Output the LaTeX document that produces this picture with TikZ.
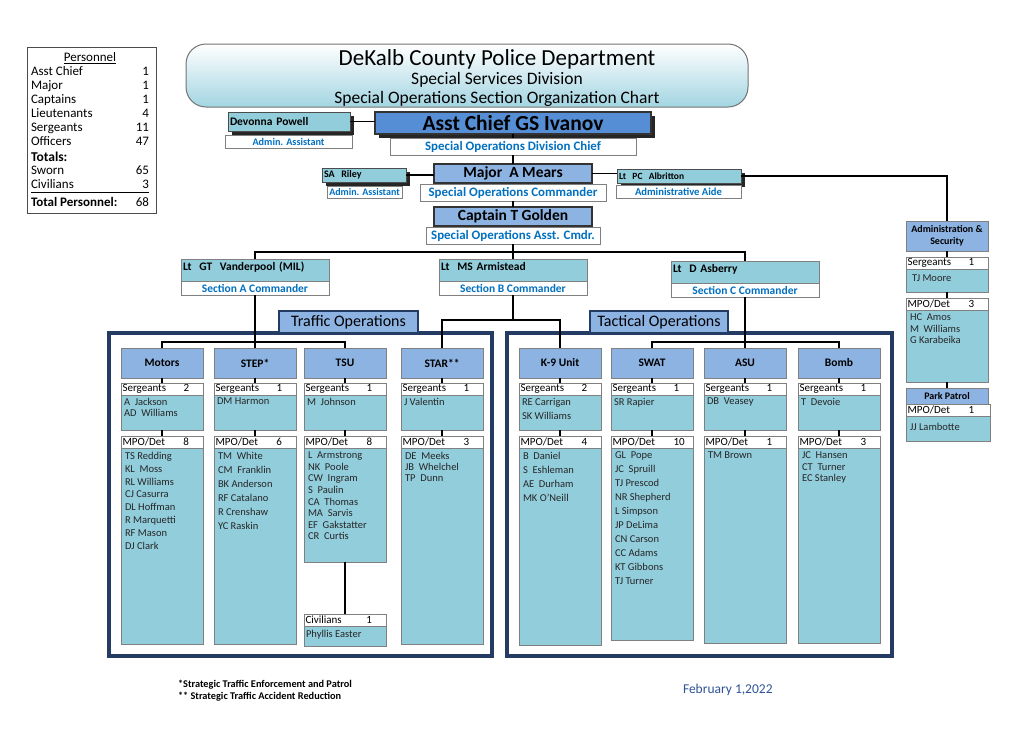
\documentclass[tikz,border=0pt]{standalone}
\usepackage{fontspec}
\setmainfont{Carlito}
\usepackage{tikz}
\usetikzlibrary{positioning, shadows}
\definecolor{chiefblue}{RGB}{85,142,213}
\definecolor{headblue}{RGB}{141,179,226}
\definecolor{cellblue}{RGB}{146,205,220}
\definecolor{roleblue}{RGB}{0,112,192}
\definecolor{framenavy}{RGB}{36,60,100}
\definecolor{datenavy}{RGB}{46,84,150}
\definecolor{edgegray}{RGB}{128,128,128}
\newcommand{\pxfont}[2]{\fontsize{#1}{#2}\selectfont}

\begin{document}
\begin{tikzpicture}[x=1pt, y=-1pt, inner sep=0pt, outer sep=0pt,
    every node/.style={anchor=north west, font=\pxfont{10.5}{12}},
    orgline/.style={draw=black, line width=1.4},
    bannerbox/.style={draw=black!55, line width=1, rounded corners=20, top color=white, bottom color=cellblue!85},
    chiefbox/.style={draw=black!80, line width=1.3, fill=chiefblue, font=\bfseries\pxfont{21.5}{23}, drop shadow={shadow xshift=3.5pt, shadow yshift=-3.5pt, opacity=1, fill=black!85}},
    staffbox/.style={draw=black!70, line width=1, fill=cellblue, align=left, inner xsep=2, font=\bfseries\pxfont{11.5}{13}, drop shadow={shadow xshift=3.5pt, shadow yshift=-3.5pt, opacity=1, fill=black!85}},
    rankbox/.style={draw=black!80, line width=1.3, fill=headblue, font=\bfseries\pxfont{15.5}{17}},
    rolebox/.style={draw=edgegray, line width=0.8, fill=white, text=roleblue, font=\bfseries\pxfont{12.9}{14}},
    ltbox/.style={draw=edgegray, line width=0.8, fill=cellblue, align=left, text width=144, inner xsep=2, text height=11, text depth=11, font=\bfseries\pxfont{11.5}{13}},
    opsframe/.style={draw=framenavy, line width=3.2},
    opslabel/.style={draw=framenavy, line width=1.6, fill=headblue, minimum height=22, font=\pxfont{16}{18}},
    unithead/.style={draw=edgegray, line width=0.8, fill=headblue, minimum width=82, minimum height=30, font=\bfseries\pxfont{11.5}{13}},
    tagbox/.style={draw=edgegray, line width=0.8, fill=white, align=left, text width=79, inner xsep=1.5, minimum height=12, font=\pxfont{11}{12}},
    listbox/.style={draw=edgegray, line width=0.8, fill=cellblue, minimum width=82},
    namelist/.style={align=left, text=black!85},
    footnote/.style={anchor=west, font=\bfseries\pxfont{10.3}{12}}
  ]
  \useasboundingbox (0,0) rectangle (1024,736);
  \fill[white] (0,0) rectangle (1024,736);

  \node (personnel) [draw=black!70, line width=0.8, minimum width=129, minimum height=166] at (27,47) {};
  \node (headcount) [font=\pxfont{13}{14}] at (31,52) {%
    \begin{tabular*}{118pt}{@{}l@{\extracolsep{\fill}}r@{}}
      \multicolumn{2}{c}{\underline{Personnel}}\\
      Asst Chief & 1\\
      Major & 1\\
      Captains & 1\\
      Lieutenants & 4\\
      Sergeants & 11\\
      Officers & 47\\[2pt]
      \textbf{\pxfont{13.5}{14}Totals:} & \\[-1pt]
      Sworn & 65\\
      Civilians & 3\\[-1pt]
      \hline
      \rule{0pt}{14pt}\textbf{Total Personnel:} & 68
    \end{tabular*}};

  \node (banner) [bannerbox, minimum width=562, minimum height=63] at (186,44) {};
  \node (bannertitle) [anchor=center, font=\pxfont{23}{26}] at (497,59) {DeKalb County Police Department};
  \node (bannerdivision) [anchor=center, font=\pxfont{17.5}{20}] at (497,80) {Special Services Division};
  \node (bannersection) [anchor=center, font=\pxfont{17.5}{20}] at (497,99) {Special Operations Section Organization Chart};

  \node (devonna) [staffbox, text width=118, minimum height=19] at (228,112) {Devonna Powell};
  \node (devonnasub) [rolebox, minimum width=127, minimum height=13, font=\bfseries\pxfont{10.2}{11}] at (225,135) {Admin. Assistant};
  \node (chief) [chiefbox, minimum width=276, minimum height=22] at (375,112) {Asst Chief GS Ivanov};
  \node (chiefsub) [rolebox, minimum width=246, minimum height=17] at (390,138) {Special Operations Division Chief};

  \node (riley) [staffbox, text width=80, minimum height=14, font=\bfseries\pxfont{10}{11}] at (322,168) {SA\ \ Riley};
  \node (rileysub) [rolebox, minimum width=75, minimum height=12, font=\bfseries\pxfont{10}{11}] at (327,186) {Admin. Assistant};
  \node (major) [rankbox, minimum width=158, minimum height=19] at (434,164) {Major\ \ A Mears};
  \node (majorsub) [rolebox, minimum width=186, minimum height=17] at (420,184) {Special Operations Commander};
  \node (albritton) [staffbox, text width=120, minimum height=14, font=\bfseries\pxfont{9.5}{11}] at (617,169) {Lt\ \ PC\ \ Albritton};
  \node (albrittonsub) [rolebox, minimum width=125, minimum height=13, font=\bfseries\pxfont{10.6}{11}] at (616,185) {Administrative Aide};

  \node (captain) [rankbox, minimum width=158, minimum height=19] at (434,207) {Captain T Golden};
  \node (captainsub) [rolebox, minimum width=174, minimum height=17] at (426,227) {Special Operations Asst. Cmdr.};

  \node (vanderpool) [ltbox] at (181,259) {Lt\ \ GT\ \ Vanderpool (MIL)};
  \node (vanderpoolsub) [rolebox, minimum width=148, minimum height=14, font=\bfseries\pxfont{11.5}{12}] at (181,281) {Section A Commander};
  \node (armistead) [ltbox] at (439,259) {Lt\ \ MS Armistead};
  \node (armisteadsub) [rolebox, minimum width=148, minimum height=14, font=\bfseries\pxfont{11.5}{12}] at (439,281) {Section B Commander};
  \node (asberry) [ltbox] at (671,261) {Lt\ \ D Asberry};
  \node (asberrysub) [rolebox, minimum width=148, minimum height=14, font=\bfseries\pxfont{11.5}{12}] at (671,283) {Section C Commander};

  \node (trafficframe) [opsframe, minimum width=383, minimum height=323] at (109,333) {};
  \node (tacticalframe) [opsframe, minimum width=385, minimum height=323] at (507,333) {};
  \node (trafficlabel) [opslabel, minimum width=139] at (279,311) {Traffic Operations};
  \node (tacticallabel) [opslabel, minimum width=138] at (590,311) {Tactical Operations};

  \foreach \u/\lx/\ttl/\sc/\sn/\sgap/\mc/\mn/\mgap/\mb in {
      motors/121/Motors/2/{A\ \ Jackson\\AD\ \ Williams}/11.5/8/{TS Redding\\KL\ \ Moss\\RL Williams\\CJ Casurra\\DL Hoffman\\R Marquetti\\RF Mason\\DJ Clark}/12.9/644,
      step/214/STEP*/1/{DM Harmon}/12/6/{TM\ \ White\\CM\ \ Franklin\\BK Anderson\\RF Catalano\\R Crenshaw\\YC Raskin}/14/644,
      tsu/304/TSU/1/{M\ \ Johnson}/12/8/{L\ \ Armstrong\\NK\ \ Poole\\CW\ \ Ingram\\S\ \ Paulin\\CA\ \ Thomas\\MA\ \ Sarvis\\EF\ \ Gakstatter\\CR\ \ Curtis}/11.6/562,
      star/401/STAR**/1/{J Valentin}/12/3/{DE\ \ Meeks\\JB\ \ Whelchel\\TP\ \ Dunn}/11.2/644,
      k9/519/K-9 Unit/2/{RE Carrigan\\SK Williams}/14/4/{B\ \ Daniel\\S\ \ Eshleman\\AE\ \ Durham\\MK O'Neill}/14/645,
      swat/611/SWAT/1/{SR Rapier}/12/10/{GL\ \ Pope\\JC\ \ Spruill\\TJ Prescod\\NR Shepherd\\L Simpson\\JP DeLima\\CN Carson\\CC Adams\\KT Gibbons\\TJ Turner}/14/640,
      asu/704/ASU/1/{DB\ \ Veasey}/12/1/{TM Brown}/12/643,
      bomb/798/Bomb/1/{T\ \ Devoie}/12/3/{JC\ \ Hansen\\CT\ \ Turner\\EC Stanley}/11.5/643}{
    \node (\u-head) [unithead] at (\lx,348) {\ttl};
    \node (\u-sgt) [tagbox] at (\lx,383) {\makebox[61pt][l]{Sergeants}\sc};
    \node (\u-sgtl) [listbox, minimum height=35] at (\lx,395) {};
    \node (\u-sgtnames) [namelist, font=\pxfont{10.5}{\sgap}] at (\lx+3,398) {\sn};
    \node (\u-mpo) [tagbox] at (\lx,436) {\makebox[61pt][l]{MPO/Det}\mc};
    \node (\u-mpol) [listbox, minimum height=\mb-448] at (\lx,448) {};
    \node (\u-mponames) [namelist, font=\pxfont{10.5}{\mgap}] at (\lx+4,452) {\mn};
    \draw[orgline] (\u-head) -- (\u-sgt);
    \draw[orgline] (\u-sgtl) -- (\u-mpo);
  }

  \node (tsu-civ) [tagbox] at (304,614) {\makebox[61pt][l]{Civilians}1};
  \node (tsu-civl) [listbox, minimum height=20] at (304,626) {};
  \node (tsu-civnames) [namelist] at (306,630) {Phyllis Easter};

  \node (adminsec) [unithead, align=center, font=\bfseries\pxfont{10}{12.5}] at (906,221) {Administration \&\\Security};
  \node (admin-sgt) [tagbox] at (906,257) {\makebox[61pt][l]{Sergeants}1};
  \node (admin-sgtl) [listbox, minimum height=23] at (906,269) {};
  \node (admin-sgtnames) [namelist] at (912,275) {TJ Moore};
  \node (admin-mpo) [tagbox] at (906,298) {\makebox[61pt][l]{MPO/Det}3};
  \node (admin-mpol) [listbox, minimum height=72] at (906,310) {};
  \node (admin-mponames) [namelist, font=\pxfont{10.5}{11.5}] at (910,314) {HC\ \ Amos\\M\ \ Williams\\G Karabeika};
  \node (parkpatrol) [unithead, minimum height=16, font=\bfseries\pxfont{10}{11}] at (906,388) {Park Patrol};
  \node (park-mpo) [tagbox, text width=81] at (906,404) {\makebox[61pt][l]{MPO/Det}1};
  \node (park-mpol) [listbox, minimum width=84, minimum height=25] at (906,416) {};
  \node (park-mponames) [namelist] at (910,423) {JJ Lambotte};

  \draw[orgline] (devonna.east) -- (devonna.east -| chief.west);
  \draw[orgline] (chief.south) -- (chiefsub.north);
  \draw[orgline] (chiefsub.south) -- (major.north);
  \draw[orgline] (riley.east) -- (riley.east -| major.west);
  \draw[orgline] (major.east) -- (major.east -| albritton.west);
  \draw[orgline] (albritton.east) -| (adminsec.north);
  \draw[orgline] (majorsub.south) -- (captain.north);
  \draw[orgline] (captainsub.south) -- ++(0,8) -| (vanderpool.north);
  \draw[orgline] (captainsub.south) -- ++(0,8) -| (asberry.north);
  \draw[orgline] (captainsub.south) -- (armistead.north);
  \draw[orgline] (vanderpoolsub.south) -- ++(0,47) -| (motors-head.north);
  \draw[orgline] (vanderpoolsub.south) -- ++(0,47) -| (tsu-head.north);
  \draw[orgline] (vanderpoolsub.south) -- (step-head.north);
  \draw[orgline] (armisteadsub.south) -- ++(0,25) -| (star-head.north);
  \draw[orgline] (armisteadsub.south) -- ++(0,25) -| (k9-head.north);
  \draw[orgline] (asberrysub.south) -- ++(0,45) -| (swat-head.north);
  \draw[orgline] (asberrysub.south) -- ++(0,45) -| (bomb-head.north);
  \draw[orgline] (asberrysub.south) -- (asu-head.north);
  \draw[orgline] (tsu-mpol) -- (tsu-civ);
  \draw[orgline] (adminsec) -- (admin-sgt);
  \draw[orgline] (admin-sgtl) -- (admin-mpo);
  \draw[orgline] (admin-mpol) -- (parkpatrol);

  \node (footstep) [footnote] at (178,685) {*Strategic Traffic Enforcement and Patrol};
  \node (footstar) [footnote] at (178,697) {** Strategic Traffic Accident Reduction};
  \node (chartdate) [anchor=west, text=datenavy, font=\pxfont{13.5}{15}] at (683,690) {February 1,2022};
\end{tikzpicture}
\end{document}
